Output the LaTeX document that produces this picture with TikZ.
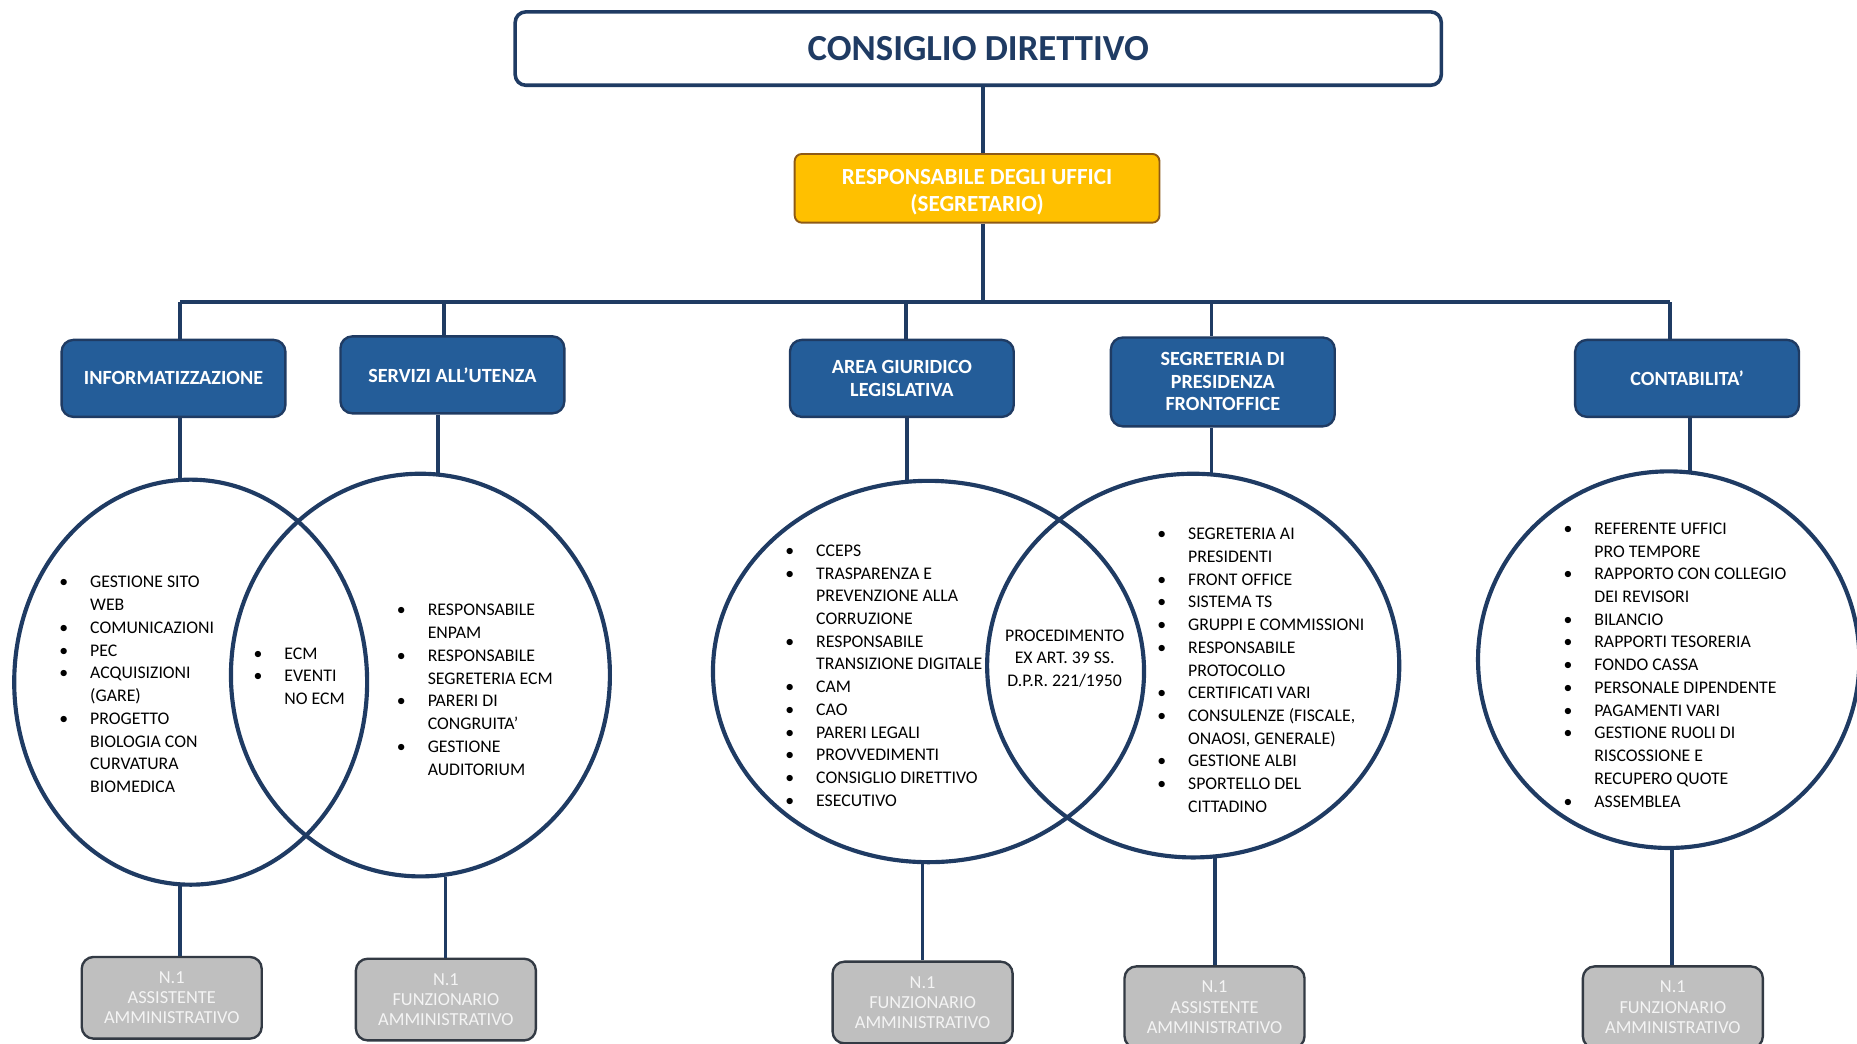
\documentclass[tikz,border=0pt]{standalone}
\usepackage{fontspec}
\setmainfont{Carlito}
\usetikzlibrary{shapes.geometric}
\definecolor{navy}{HTML}{1F3B63}
\definecolor{boxblue}{HTML}{245D99}
\definecolor{gold}{HTML}{FFC000}
\definecolor{goldedge}{HTML}{8E5A16}
\definecolor{boxgray}{HTML}{BFBFBF}
\definecolor{grayedge}{HTML}{333A44}
\definecolor{graytext}{HTML}{F4F4F4}
\newcommand\bl{\makebox[26pt][l]{\textbullet}}
\newcommand\bc{\hspace*{26pt}}
\begin{document}
\begin{tikzpicture}[x=1pt,y=-1pt,
  conn/.style={draw=navy,line width=3pt},
  cdbox/.style={draw=navy,line width=3pt,rounded corners=9pt,fill=white,
    minimum width=782pt,minimum height=62pt,text=navy,
    font=\fontsize{31}{36}\selectfont\bfseries},
  respbox/.style={draw=goldedge,line width=1.6pt,rounded corners=6pt,fill=gold,
    minimum width=308pt,minimum height=58pt,text=white,align=center,
    font=\fontsize{19.5}{22.5}\selectfont\bfseries},
  bluebox/.style={draw=navy,line width=2pt,rounded corners=10pt,fill=boxblue,
    minimum width=189pt,minimum height=65pt,text=white,align=center,
    font=\fontsize{17}{19}\selectfont\bfseries},
  graybox/.style={draw=grayedge,line width=2pt,rounded corners=10pt,fill=boxgray,
    minimum width=152pt,minimum height=69pt,text=graytext,align=center,
    font=\fontsize{15.5}{17}\selectfont},
  oval/.style={ellipse,draw=navy,line width=3.5pt,inner sep=0pt},
  listtxt/.style={inner sep=0pt,align=left,anchor=west,text=black,
    font=\fontsize{15}{19.2}\selectfont},
  lenstxt/.style={inner sep=0pt,align=center,text=black,
    font=\fontsize{15}{19.2}\selectfont}]
\useasboundingbox (0,0) rectangle (1568,881);
\clip (0,0) rectangle (1568,881);

% top boxes
\node[cdbox] (cd) at (826,41) {CONSIGLIO DIRETTIVO};
\node[respbox] (resp) at (825,159) {\rule{0pt}{19pt}RESPONSABILE DEGLI UFFICI\\(SEGRETARIO)};

% area boxes
\node[bluebox] (b1) at (146.5,319.5) {INFORMATIZZAZIONE};
\node[bluebox] (b2) at (382,316.5) {SERVIZI ALL’UTENZA};
\node[bluebox] (b3) at (761.5,319.5) {AREA GIURIDICO\\LEGISLATIVA};
\node[bluebox,minimum height=75pt] (b4) at (1032.5,322.5) {SEGRETERIA DI\\PRESIDENZA\\FRONTOFFICE};
\node[bluebox] (b5) at (1424.5,319.5) {CONTABILITA’};

% ellipses
\node[oval,minimum width=298pt,minimum height=342pt] (e1) at (161,576) {};
\node[oval,minimum width=320pt,minimum height=340pt] (e2) at (355,570) {};
\node[oval,minimum width=364pt,minimum height=322pt] (e3) at (784,567) {};
\node[oval,minimum width=348pt,minimum height=324pt] (e4) at (1007.5,562) {};
\node[oval,minimum width=322pt,minimum height=318pt] (e5) at (1409,557) {};

% gray boxes
\node[graybox] (g1) at (145,842.5) {N.1\\ASSISTENTE\\AMMINISTRATIVO};
\node[graybox] (g2) at (376.5,844) {N.1\\FUNZIONARIO\\AMMINISTRATIVO};
\node[graybox] (g3) at (779,846.5) {N.1\\FUNZIONARIO\\AMMINISTRATIVO};
\node[graybox] (g4) at (1025.5,850.5) {N.1\\ASSISTENTE\\AMMINISTRATIVO};
\node[graybox] (g5) at (1412.5,850.5) {N.1\\FUNZIONARIO\\AMMINISTRATIVO};

% bus coordinates
\coordinate (bc) at (830,255);
\coordinate (d1) at (152,255);
\coordinate (d2) at (375,255);
\coordinate (d3) at (765,255);
\coordinate (d4) at (1023,255);
\coordinate (d5) at (1410,255);
\coordinate (v1) at (152,0);
\coordinate (v2) at (370,0);
\coordinate (v3) at (766,0);
\coordinate (v4) at (1023,0);
\coordinate (v5) at (1427,0);
\coordinate (w1) at (152,0);
\coordinate (w2) at (376,0);
\coordinate (w3) at (779,0);
\coordinate (w4) at (1026,0);
\coordinate (w5) at (1412,0);

% connectors
\draw[conn] (cd.south -| bc) -- (resp.north -| bc);
\draw[conn] (resp.south -| bc) -- (bc);
\draw[conn] (d1) -- (d5);
\draw[conn] (d1) -- (b1.north -| d1);
\draw[conn] (d2) -- (b2.north -| d2);
\draw[conn] (d3) -- (b3.north -| d3);
\draw[conn] (d4) -- (b4.north -| d4);
\draw[conn] (d5) -- (b5.north -| d5);
\draw[conn] (b1.south -| v1) -- ([yshift=-1pt]e1.north -| v1);
\draw[conn] (b2.south -| v2) -- ([yshift=-1pt]e2.north -| v2);
\draw[conn] (b3.south -| v3) -- ([yshift=-1pt]e3.north -| v3);
\draw[conn] (b4.south -| v4) -- ([yshift=-1pt]e4.north -| v4);
\draw[conn] (b5.south -| v5) -- ([yshift=-2pt]e5.north -| v5);
\draw[conn] ([yshift=1pt]e1.south -| w1) -- (g1.north -| w1);
\draw[conn] ([yshift=1pt]e2.south -| w2) -- (g2.north -| w2);
\draw[conn] ([yshift=1pt]e3.south -| w3) -- (g3.north -| w3);
\draw[conn] ([yshift=1pt]e4.south -| w4) -- (g4.north -| w4);
\draw[conn] ([yshift=1pt]e5.south -| w5) -- (g5.north -| w5);

% lists
\node[listtxt] (l1) at (50,578) {\bl GESTIONE SITO\\\bc WEB\\\bl COMUNICAZIONI\\\bl PEC\\\bl ACQUISIZIONI\\\bc (GARE)\\\bl PROGETTO\\\bc BIOLOGIA CON\\\bc CURVATURA\\\bc BIOMEDICA};
\node[listtxt] (l12) at (214,571) {\bl ECM\\\bl EVENTI\\\bc NO ECM};
\node[listtxt] (l2) at (335,582.5) {\bl RESPONSABILE\\\bc ENPAM\\\bl RESPONSABILE\\\bc SEGRETERIA ECM\\\bl PARERI DI\\\bc CONGRUITA’\\\bl GESTIONE\\\bc AUDITORIUM};
\node[listtxt] (l3) at (663,570.5) {\bl CCEPS\\\bl TRASPARENZA E\\\bc PREVENZIONE ALLA\\\bc CORRUZIONE\\\bl RESPONSABILE\\\bc TRANSIZIONE DIGITALE\\\bl CAM\\\bl CAO\\\bl PARERI LEGALI\\\bl PROVVEDIMENTI\\\bl CONSIGLIO DIRETTIVO\\\bl ESECUTIVO};
\node[lenstxt] (l34) at (899,556) {PROCEDIMENTO\\EX ART. 39 SS.\\D.P.R. 221/1950};
\node[listtxt] (l4) at (977,566) {\bl SEGRETERIA AI\\\bc PRESIDENTI\\\bl FRONT OFFICE\\\bl SISTEMA TS\\\bl GRUPPI E COMMISSIONI\\\bl RESPONSABILE\\\bc PROTOCOLLO\\\bl CERTIFICATI VARI\\\bl CONSULENZE (FISCALE,\\\bc ONAOSI, GENERALE)\\\bl GESTIONE ALBI\\\bl SPORTELLO DEL\\\bc CITTADINO};
\node[listtxt] (l5) at (1320,561.5) {\bl REFERENTE UFFICI\\\bc PRO TEMPORE\\\bl RAPPORTO CON COLLEGIO\\\bc DEI REVISORI\\\bl BILANCIO\\\bl RAPPORTI TESORERIA\\\bl FONDO CASSA\\\bl PERSONALE DIPENDENTE\\\bl PAGAMENTI VARI\\\bl GESTIONE RUOLI DI\\\bc RISCOSSIONE E\\\bc RECUPERO QUOTE\\\bl ASSEMBLEA};
\end{tikzpicture}
\end{document}
